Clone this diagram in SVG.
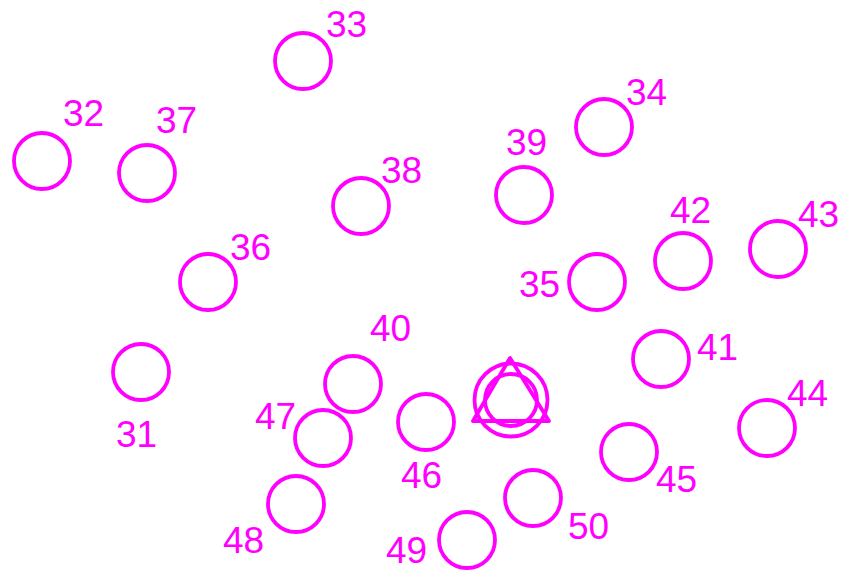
<svg xmlns="http://www.w3.org/2000/svg" width="844" height="570" viewBox="0 0 844 570">
<style>
.c{fill:none;stroke:#ff00ff;stroke-width:3.8}
.t{font-family:"Liberation Sans",Arial,sans-serif;font-size:37px;fill:#ff00ff}
</style>
<rect width="844" height="570" fill="#ffffff"/>
<g id="n31"><circle class="c" cx="141" cy="372" r="28"/><text class="t" x="116" y="447">31</text></g>
<g id="n32"><circle class="c" cx="42" cy="161" r="28"/><text class="t" x="63" y="126">32</text></g>
<g id="n33"><circle class="c" cx="303" cy="61" r="28"/><text class="t" x="326" y="37">33</text></g>
<g id="n34"><circle class="c" cx="604" cy="127" r="28"/><text class="t" x="626" y="105">34</text></g>
<g id="n35"><circle class="c" cx="597" cy="282" r="28"/><text class="t" x="519" y="297">35</text></g>
<g id="n36"><circle class="c" cx="208" cy="282" r="28"/><text class="t" x="230" y="260">36</text></g>
<g id="n37"><circle class="c" cx="147" cy="173" r="28"/><text class="t" x="156" y="133">37</text></g>
<g id="n38"><circle class="c" cx="361" cy="206" r="28"/><text class="t" x="381" y="183">38</text></g>
<g id="n39"><circle class="c" cx="524" cy="195" r="28"/><text class="t" x="506" y="155">39</text></g>
<g id="n40"><circle class="c" cx="353" cy="384" r="28"/><text class="t" x="370" y="341">40</text></g>
<g id="n41"><circle class="c" cx="661" cy="359" r="28"/><text class="t" x="697" y="360">41</text></g>
<g id="n42"><circle class="c" cx="683" cy="261" r="28"/><text class="t" x="670" y="223">42</text></g>
<g id="n43"><circle class="c" cx="778" cy="249" r="28"/><text class="t" x="798" y="227">43</text></g>
<g id="n44"><circle class="c" cx="767" cy="428" r="28"/><text class="t" x="787" y="406">44</text></g>
<g id="n45"><circle class="c" cx="629" cy="452" r="28"/><text class="t" x="656" y="492">45</text></g>
<g id="n46"><circle class="c" cx="426" cy="422" r="28"/><text class="t" x="401" y="488">46</text></g>
<g id="n47"><circle class="c" cx="323" cy="438" r="28"/><text class="t" x="255" y="429">47</text></g>
<g id="n48"><circle class="c" cx="296" cy="504" r="28"/><text class="t" x="223" y="553">48</text></g>
<g id="n49"><circle class="c" cx="467" cy="540" r="28"/><text class="t" x="386" y="563">49</text></g>
<g id="n50"><circle class="c" cx="533" cy="498" r="28"/><text class="t" x="568" y="539">50</text></g>
<g id="center">
<circle class="c" cx="511" cy="400" r="36.5"/>
<circle class="c" cx="511" cy="400" r="26"/>
<polygon class="c" points="510,358 473,421 549,421" stroke-linejoin="round"/>
</g>
<g id="connectors"></g>
</svg>
